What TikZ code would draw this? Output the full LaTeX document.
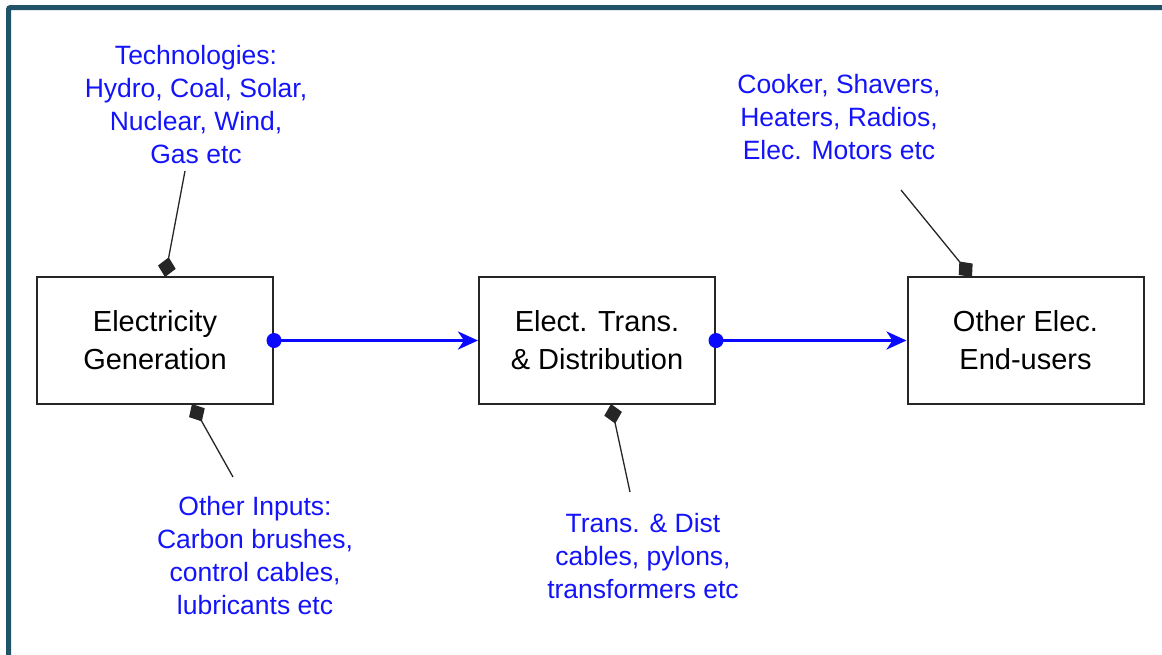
\documentclass[tikz,border=0pt]{standalone}
\usepackage{fontspec}
\setmainfont{Liberation Sans}
\usetikzlibrary{arrows.meta}
\definecolor{frameteal}{RGB}{32,82,104}
\definecolor{lblblue}{RGB}{20,20,250}
\definecolor{flowblue}{RGB}{10,10,255}
\tikzset{
  procbox/.style={draw=black!85, line width=2pt, minimum width=236pt, minimum height=127pt,
    align=center, inner sep=0pt, font=\fontsize{29}{38}\selectfont},
  lbl/.style={text=lblblue, align=center, inner sep=0pt, font=\fontsize{26.5}{33}\selectfont},
  pointer/.style={draw=black!85, line width=1.3pt, -{Diamond[length=20pt,width=18pt]}},
  flow/.style={draw=flowblue, line width=3pt, -{Stealth[length=20pt,width=18pt,inset=6pt]}},
  flowdot/.style={circle, fill=flowblue, inner sep=0pt, minimum size=15pt}
}
\begin{document}
\begin{tikzpicture}[x=1pt,y=-1pt]
\useasboundingbox (0,0) rectangle (1162,654);
\fill[white] (0,0) rectangle (1162,654);
% frame (cropped on the right and bottom)
\draw[frameteal, line width=5pt, rounded corners=2pt] (8.5,660) -- (8.5,7.5) -- (1170,7.5);

% process boxes
\node[procbox] (gen) at (155,340.5) {Electricity\\Generation};
\node[procbox] (td)  at (597,340.5) {Elect. Trans.\\\& Distribution};
\node[procbox] (eu)  at (1025.5,340.5) {Other Elec.\\End-users};

% labels
\node[lbl] (tech) at (196,105) {Technologies:\\Hydro, Coal, Solar,\\Nuclear, Wind,\\Gas etc};
\node[lbl] (inp)  at (255,556) {Other Inputs:\\Carbon brushes,\\control cables,\\lubricants etc};
\node[lbl] (tdl)  at (643,556) {Trans. \& Dist\\cables, pylons,\\transformers etc};
\node[lbl] (app)  at (839,117) {Cooker, Shavers,\\Heaters, Radios,\\Elec. Motors etc};

% pointer ends
\coordinate (techS) at (185,171);
\coordinate (techE) at (165,277);
\coordinate (inpS) at (233,477);
\coordinate (inpE) at (192,404);
\coordinate (tdlS) at (630,492);
\coordinate (tdlE) at (611,404);
\coordinate (appS) at (901,190);
\coordinate (appE) at (972,277);

\draw[pointer] (techS) -- (techE);
\draw[pointer] (inpS) -- (inpE);
\draw[pointer] (tdlS) -- (tdlE);
\draw[pointer] (appS) -- (appE);

% flows
\draw[flow] (gen.east) -- (td.west);
\draw[flow] (td.east) -- (eu.west);
\node[flowdot] (d1) at (gen.east) {};
\node[flowdot] (d2) at (td.east) {};
\end{tikzpicture}
\end{document}
